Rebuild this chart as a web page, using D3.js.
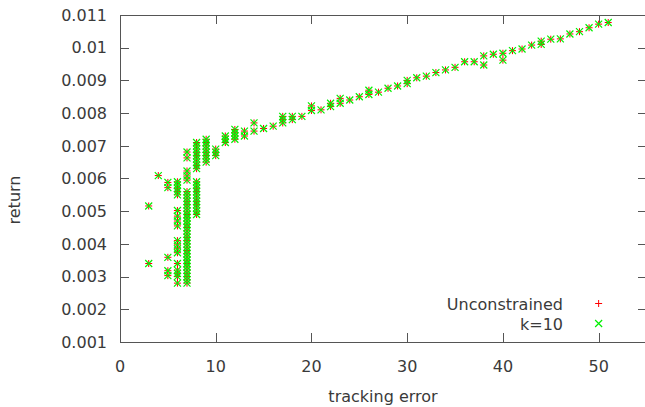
<!DOCTYPE html>
<html>
<head>
<meta charset="utf-8">
<script src="https://cdn.jsdelivr.net/npm/d3@7"></script>
<style>
  body { margin: 0; background: #fff; }
  text { font-family: "DejaVu Sans", sans-serif; fill: #3a3a3a; }
</style>
</head>
<body>
<script>
var width = 645,
    height = 407;

// tick values
var xTicks = [0, 10, 20, 30, 40, 50];
var yTicks = [0.001, 0.002, 0.003, 0.004, 0.005, 0.006, 0.007, 0.008, 0.009, 0.01, 0.011];
var yTickLabels = ['0.001', '0.002', '0.003', '0.004', '0.005', '0.006', '0.007', '0.008', '0.009', '0.01', '0.011'];

// [tracking error, return]
var unconstrained = [
  [3,0.00516],[3,0.0034],
  [4,0.00609],
  [5,0.00588],[5,0.00572],[5,0.00359],[5,0.00318],[5,0.00303],
  [6,0.0059],[6,0.0058],[6,0.0057],[6,0.0056],[6,0.0055],[6,0.00502],[6,0.00485],[6,0.0047],[6,0.00455],
  [6,0.0041],[6,0.00397],[6,0.00385],[6,0.00373],[6,0.0034],[6,0.0032],[6,0.0031],[6,0.003],[6,0.0028],
  [7,0.00681],[7,0.00663],[7,0.00623],[7,0.00608],[7,0.00595],[7,0.0056],[7,0.0055],[7,0.0054],[7,0.0053],
  [7,0.0052],[7,0.0051],[7,0.005],[7,0.0049],[7,0.0048],[7,0.0047],[7,0.0046],[7,0.0045],[7,0.0044],
  [7,0.0043],[7,0.0042],[7,0.0041],[7,0.004],[7,0.0039],[7,0.0038],[7,0.0037],[7,0.0036],[7,0.0035],
  [7,0.0034],[7,0.0033],[7,0.0032],[7,0.0031],[7,0.003],[7,0.0029],[7,0.0028],
  [8,0.0071],[8,0.007],[8,0.0069],[8,0.0068],[8,0.0067],[8,0.0066],[8,0.0065],[8,0.0064],[8,0.0063],
  [8,0.0059],[8,0.0058],[8,0.0057],[8,0.0056],[8,0.0055],[8,0.0054],[8,0.0053],[8,0.0052],[8,0.0051],
  [8,0.005],[8,0.0049],
  [9,0.0072],[9,0.0071],[9,0.007],[9,0.0069],[9,0.0068],[9,0.0067],[9,0.0066],[9,0.0065],
  [10,0.0069],[10,0.0068],[10,0.0067],
  [11,0.0073],[11,0.0072],[11,0.0071],
  [12,0.0075],[12,0.0074],[12,0.0073],[12,0.0072],
  [13,0.00745],[13,0.0073],
  [14,0.0077],[14,0.00745],
  [15,0.00753],[16,0.0076],
  [17,0.0079],[17,0.0078],[17,0.0077],
  [18,0.0079],[18,0.0078],[19,0.0079],
  [20,0.00822],[20,0.00808],[21,0.0081],[22,0.0083],[22,0.0082],[23,0.00845],[23,0.0083],[24,0.0084],
  [25,0.0085],[26,0.0087],[26,0.00857],[27,0.00864],[28,0.00876],[29,0.00883],[30,0.009],[30,0.0089],
  [31,0.00908],[32,0.00913],[33,0.00924],[34,0.00932],[35,0.0094],[36,0.00957],[37,0.00957],
  [38,0.00975],[38,0.00947],[39,0.0098],[40,0.00983],[40,0.00962],[41,0.00991],[42,0.00996],
  [43,0.01008],[44,0.0102],[44,0.0101],[45,0.01026],[46,0.01027],[47,0.01042],[48,0.01049],
  [49,0.01061],[50,0.01072],[51,0.01077]
];

var k10 = [
  [3,0.00516],[3,0.0034],
  [4,0.00609],
  [5,0.00588],[5,0.00572],[5,0.00359],[5,0.00318],[5,0.00303],
  [6,0.0059],[6,0.0058],[6,0.0057],[6,0.0056],[6,0.0055],[6,0.00502],[6,0.00485],[6,0.0047],[6,0.00455],
  [6,0.0041],[6,0.00397],[6,0.00385],[6,0.00373],[6,0.0034],[6,0.0032],[6,0.0031],[6,0.003],[6,0.0028],
  [7,0.00681],[7,0.00663],[7,0.00623],[7,0.00608],[7,0.00595],[7,0.0056],[7,0.0055],[7,0.0054],[7,0.0053],
  [7,0.0052],[7,0.0051],[7,0.005],[7,0.0049],[7,0.0048],[7,0.0047],[7,0.0046],[7,0.0045],[7,0.0044],
  [7,0.0043],[7,0.0042],[7,0.0041],[7,0.004],[7,0.0039],[7,0.0038],[7,0.0037],[7,0.0036],[7,0.0035],
  [7,0.0034],[7,0.0033],[7,0.0032],[7,0.0031],[7,0.003],[7,0.0029],[7,0.0028],
  [8,0.0071],[8,0.007],[8,0.0069],[8,0.0068],[8,0.0067],[8,0.0066],[8,0.0065],[8,0.0064],[8,0.0063],
  [8,0.0059],[8,0.0058],[8,0.0057],[8,0.0056],[8,0.0055],[8,0.0054],[8,0.0053],[8,0.0052],[8,0.0051],
  [8,0.005],[8,0.0049],
  [9,0.0072],[9,0.0071],[9,0.007],[9,0.0069],[9,0.0068],[9,0.0067],[9,0.0066],[9,0.0065],
  [10,0.0069],[10,0.0068],[10,0.0067],
  [11,0.0073],[11,0.0072],[11,0.0071],
  [12,0.0075],[12,0.0074],[12,0.0073],[12,0.0072],
  [13,0.00745],[13,0.0073],
  [14,0.0077],[14,0.00745],
  [15,0.00753],[16,0.0076],
  [17,0.0079],[17,0.0078],[17,0.0077],
  [18,0.0079],[18,0.0078],[19,0.0079],
  [20,0.00822],[20,0.00808],[21,0.0081],[22,0.0083],[22,0.0082],[23,0.00845],[23,0.0083],[24,0.0084],
  [25,0.0085],[26,0.0087],[26,0.00857],[27,0.00864],[28,0.00876],[29,0.00883],[30,0.009],[30,0.0089],
  [31,0.00908],[32,0.00913],[33,0.00924],[34,0.00932],[35,0.0094],[36,0.00957],[37,0.00957],
  [38,0.00975],[38,0.00947],[39,0.0098],[40,0.00983],[40,0.00962],[41,0.00991],[42,0.00996],
  [43,0.01008],[44,0.0102],[44,0.0101],[45,0.01026],[46,0.01027],[47,0.01042],[48,0.01049],
  [49,0.01061],[50,0.01072],[51,0.01077]
];

var seriesNames = ['Unconstrained', 'k=10'];
var seriesColors = ['#ff0000', '#00f000'];

var plotLeft = 120, plotTop = 15, plotBottom = 342, plotRight = 646.5;

var x = d3.scaleLinear().domain([0, 55]).range([plotLeft, plotRight]);
var y = d3.scaleLinear().domain([0.001, 0.011]).range([plotBottom, plotTop]);

var svg = d3.select('body')
  .append('svg')
  .attr('width', width)
  .attr('height', height);

var frameColor = '#555';

// ticks (inward, mirrored)
var tl = 9;
var axes = svg.append('g').attr('shape-rendering', 'crispEdges').attr('stroke', frameColor);
xTicks.forEach(function(t) {
  var px = Math.round(x(t)) + 0.5;
  axes.append('line').attr('x1', px).attr('x2', px).attr('y1', plotBottom).attr('y2', plotBottom - tl);
  axes.append('line').attr('x1', px).attr('x2', px).attr('y1', plotTop).attr('y2', plotTop + tl);
});
yTicks.forEach(function(t) {
  var py = Math.round(y(t)) + 0.5;
  axes.append('line').attr('x1', plotLeft).attr('x2', plotLeft + tl).attr('y1', py).attr('y2', py);
  axes.append('line').attr('x1', plotRight).attr('x2', plotRight - tl).attr('y1', py).attr('y2', py);
});

// frame
axes.append('rect')
  .attr('x', plotLeft + 0.5).attr('y', plotTop + 0.5)
  .attr('width', plotRight - plotLeft).attr('height', plotBottom - plotTop)
  .attr('fill', 'none');

// tick labels
svg.selectAll('.xl')
  .data(xTicks)
  .enter().append('text')
  .attr('x', function(d) { return x(d); })
  .attr('y', 366)
  .attr('dy', '0.36em')
  .attr('text-anchor', 'middle')
  .attr('font-size', 16)
  .text(function(d) { return d; });

svg.selectAll('.yl')
  .data(yTicks)
  .enter().append('text')
  .attr('x', 107)
  .attr('y', function(d) { return y(d); })
  .attr('dy', '0.36em')
  .attr('text-anchor', 'end')
  .attr('font-size', 16)
  .text(function(d, i) { return yTickLabels[i]; });

// axis titles
svg.append('text')
  .attr('x', 383).attr('y', 396)
  .attr('dy', '0.36em')
  .attr('text-anchor', 'middle')
  .attr('font-size', 16)
  .text('tracking error');

svg.append('text')
  .attr('transform', 'translate(14,200) rotate(-90)')
  .attr('dy', '0.36em')
  .attr('text-anchor', 'middle')
  .attr('font-size', 16)
  .text('return');

// markers
var s = 3.5;
function plus(g, cx, cy, color) {
  g.append('path')
    .attr('d', 'M' + (cx - s) + ',' + cy + 'H' + (cx + s) + 'M' + cx + ',' + (cy - s) + 'V' + (cy + s))
    .attr('stroke', color).attr('stroke-width', 1).attr('fill', 'none');
}
function cross(g, cx, cy, color) {
  g.append('path')
    .attr('d', 'M' + (cx - s) + ',' + (cy - s) + 'L' + (cx + s) + ',' + (cy + s) +
               'M' + (cx - s) + ',' + (cy + s) + 'L' + (cx + s) + ',' + (cy - s))
    .attr('stroke', color).attr('stroke-width', 1.2).attr('fill', 'none');
}

var g1 = svg.append('g');
unconstrained.forEach(function(d) { plus(g1, x(d[0]), y(d[1]), seriesColors[0]); });
var g2 = svg.append('g');
k10.forEach(function(d) { cross(g2, x(d[0]), y(d[1]), seriesColors[1]); });

// legend
var legendY = [304, 324];
seriesNames.forEach(function(name, i) {
  svg.append('text')
    .attr('x', 563).attr('y', legendY[i])
    .attr('dy', '0.36em')
    .attr('text-anchor', 'end')
    .attr('font-size', 16)
    .text(name);
  if (i === 0) plus(svg, x(50), legendY[i] - 0.5, seriesColors[0]);
  else cross(svg, x(50), legendY[i] - 0.5, seriesColors[1]);
});
</script>
</body>
</html>
